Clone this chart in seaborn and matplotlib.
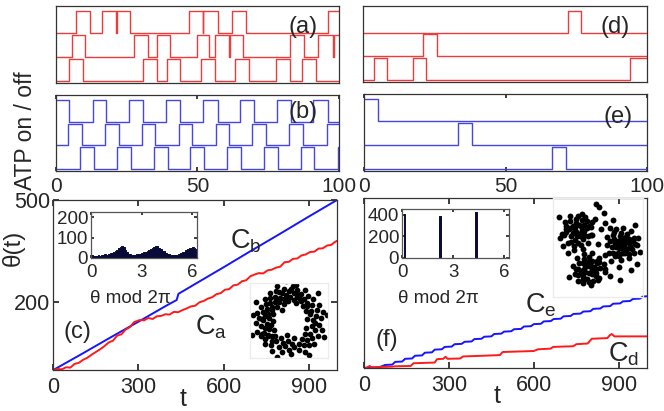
import numpy as np
import pandas as pd
import matplotlib
matplotlib.use("Agg")
import matplotlib.pyplot as plt
import seaborn as sns

sns.set_theme(style="white")
plt.rcParams['font.family'] = ['Liberation Sans', 'DejaVu Sans']
plt.rcParams['mathtext.default'] = 'regular'

# ATP on/off switching times (t), each trace starts in the given state
a_top = [7.2, 12.2, 16.3, 21.3, 21.5, 26.3, 46.9, 51.9, 52.1, 57.2, 62.1, 67.1, 96.0]
a_mid = [5.8, 10.5, 27.5, 32.6, 35.8, 40.5, 49.8, 54.2, 56.2, 61.2, 61.4, 66.2,
         82.6, 87.6, 92.7, 97.9, 98.1]
a_bot = [4.6, 9.5, 30.8, 35.8, 39.3, 44.0, 51.2, 56.2, 63.3, 68.2, 77.6, 82.7, 87.0, 91.8]
b_top = [4.8, 13.1, 17.9, 26.0, 30.7, 39.0, 43.8, 52.1, 57.2, 65.1, 70.1, 78.0, 83.0, 90.9, 96.0]
b_mid = [4.3, 9.3, 17.3, 22.2, 30.5, 35.2, 43.4, 48.1, 56.5, 61.3, 69.4, 74.2, 82.5, 87.4, 95.6]
b_bot = [8.7, 13.4, 21.6, 26.6, 34.6, 39.5, 47.5, 52.3, 60.5, 65.3, 73.5, 78.3, 86.5, 91.3, 99.5]
d_top = [72.1, 76.9]
d_mid = [21.2, 26.1]
d_bot = [3.7, 8.6, 17.5, 22.2, 94.1]
e_top = [5.0]
e_mid = [33.2, 38.3]
e_bot = [66.4, 71.4]
start_state = {"b_top": 1, "e_top": 1}

# theta(t) curves
cb_t = [0, 100, 200, 300, 400, 435, 441, 500, 600, 700, 800, 900, 1000]
cb_theta = [0, 47, 95, 142, 190, 206, 224, 253, 302, 352, 401, 451, 500]
ca_t = [0, 15, 30, 45, 60, 75, 90, 105, 120, 135, 150, 165, 180, 195, 210, 225, 240, 255,
        270, 285, 295, 305, 320, 335, 350, 365, 380, 395, 410, 425, 440, 455, 470, 485,
        500, 515, 530, 545, 560, 575, 590, 605, 620, 635, 650, 665, 680, 695, 710, 725,
        740, 755, 770, 785, 800, 815, 830, 845, 860, 875, 890, 905, 920, 935, 950, 965,
        980, 990, 1000]
ca_theta = [0, 3, 2, 8, 7, 18, 21, 30, 36, 45, 53, 61, 70, 81, 86, 101, 105, 119,
            126, 141, 144, 147, 146, 153, 150, 158, 159, 164, 163, 171, 170, 176, 181, 187,
            189, 199, 203, 210, 214, 223, 226, 236, 238, 249, 251, 261, 264, 276, 281, 285,
            284, 293, 295, 301, 304, 317, 318, 327, 328, 337, 340, 347, 348, 357, 358, 366,
            368, 375, 380]
ce_t = [0, 20, 40, 60, 75, 100, 110, 135, 145, 170, 180, 205, 215, 240, 250, 275, 285,
        310, 320, 345, 355, 380, 390, 415, 425, 450, 460, 485, 495, 520, 530, 555, 565,
        590, 600, 625, 635, 660, 670, 695, 705, 730, 740, 765, 775, 800, 810, 835, 845,
        870, 880, 905, 915, 940, 950, 975, 985, 1000]
ce_theta = [0, 2, 1, 4, 9, 10, 18, 19, 27, 28, 36, 37, 45, 46, 54, 55, 62, 63, 70, 71,
            77, 78, 85, 86, 92, 93, 100, 101, 107, 108, 114, 115, 122, 123, 129, 130, 137,
            138, 144, 145, 152, 153, 159, 160, 166, 167, 174, 175, 181, 182, 189, 190, 196,
            197, 203, 204, 210, 211]
cd_t = [0, 10, 20, 25, 60, 100, 110, 165, 175, 250, 258, 280, 288, 295, 340, 350, 420,
        480, 490, 600, 615, 660, 668, 740, 750, 790, 805, 860, 868, 875, 885, 1000]
cd_theta = [0, 1, 6, 2, 3, 4, 5, 6, 14, 16, 26, 27, 33, 27, 28, 34, 36, 38, 47, 50, 55,
            57, 62, 64, 70, 72, 86, 88, 96, 100, 93, 93]

# histograms of theta mod 2pi
c_counts = [14, 10, 12, 11, 13, 12, 15, 14, 18, 17, 22, 25, 24, 30, 34, 40, 47, 55, 61, 52,
            38, 30, 22, 20, 16, 17, 14, 18, 20, 22, 25, 30, 28, 34, 38, 42, 48, 52, 60, 57,
            50, 44, 36, 32, 25, 20, 18, 15, 16, 14, 17, 15, 20, 24, 28, 30, 38, 42, 50, 48,
            52, 49, 44]
f_counts = [3, 410, 4, 2, 3, 2, 3, 2, 4, 3, 2, 3, 2, 3, 2, 2, 3, 4, 2, 3, 2, 3, 393, 3, 2,
            3, 2, 4, 3, 2, 3, 2, 3, 2, 3, 4, 2, 3, 2, 3, 2, 3, 2, 431, 3, 2, 3, 2, 3, 4, 2,
            3, 2, 3, 2, 3, 2, 3, 2, 3, 4, 2, 3]

# phase-space clouds, (angle in degrees, radius)
ring_pts = [(2, 0.9), (5, 1.25), (8, 0.7), (12, 1.05), (15, 1.35), (18, 0.85), (22, 1.15),
            (26, 0.95), (29, 1.3), (33, 0.75), (36, 1.1), (40, 0.9), (43, 1.25), (47, 1.0),
            (50, 0.8), (54, 1.2), (57, 1.05), (61, 0.9), (64, 1.35), (67, 1.15), (70, 0.75),
            (73, 1.0), (76, 1.25), (79, 0.85), (82, 1.1), (85, 1.4), (88, 0.95), (91, 1.2),
            (94, 0.8), (97, 1.05), (100, 1.3), (103, 0.9), (106, 1.15), (109, 0.7), (112, 1.0),
            (115, 1.3), (118, 0.85), (121, 1.1), (124, 1.35), (127, 0.95), (130, 1.2),
            (133, 0.75), (136, 1.05), (139, 1.3), (142, 0.9), (145, 1.15), (148, 0.8),
            (151, 1.0), (154, 1.25), (157, 0.7), (160, 1.1), (163, 0.9), (166, 1.3), (169, 1.0),
            (172, 0.8), (175, 1.2), (178, 1.05), (181, 0.65), (184, 1.3), (187, 0.9),
            (190, 1.15), (193, 0.75), (196, 1.0), (199, 1.35), (202, 0.85), (205, 1.1),
            (208, 1.25), (211, 0.7), (214, 1.0), (217, 1.2), (220, 0.9), (223, 1.3), (226, 0.8),
            (229, 1.05), (232, 1.2), (236, 0.95), (240, 1.35), (244, 0.75), (248, 1.1),
            (252, 0.9), (256, 1.25), (260, 1.0), (264, 0.8), (268, 1.15), (272, 1.3), (276, 0.9),
            (280, 1.05), (284, 0.7), (288, 1.2), (292, 0.95), (296, 1.35), (300, 1.1),
            (304, 0.85), (308, 1.2), (312, 1.0), (316, 1.3), (320, 0.8), (324, 1.1), (328, 0.95),
            (332, 1.25), (336, 0.7), (340, 1.05), (344, 1.3), (348, 0.9), (352, 1.15),
            (356, 1.0), (10, 1.5), (45, 1.55), (95, 1.6), (150, 1.5), (200, 1.55), (250, 1.5),
            (300, 1.55), (335, 1.5), (125, 0.55), (260, 0.55), (65, 0.95), (75, 1.1), (88, 1.25),
            (100, 0.85), (110, 1.2), (120, 1.0), (160, 0.95), (175, 1.1), (190, 0.85),
            (205, 1.2), (215, 1.05), (110, 1.45), (80, 1.45), (170, 1.45)]
blob_tl = [(0, 0.3), (20, 0.9), (40, 0.6), (60, 1.1), (80, 0.4), (100, 0.8), (120, 1.2),
           (140, 0.5), (160, 0.95), (180, 0.2), (200, 1.1), (220, 0.7), (240, 1.0), (260, 0.45),
           (280, 1.15), (300, 0.8), (320, 0.55), (340, 1.05), (10, 0.7), (30, 1.2), (50, 0.35),
           (70, 0.8), (90, 1.05), (110, 0.55), (130, 0.9), (150, 1.15), (170, 0.65), (190, 0.9),
           (210, 0.4), (230, 1.2), (250, 0.75), (270, 0.95), (290, 0.5), (310, 1.2), (330, 0.85),
           (350, 0.45), (45, 0.95), (135, 0.3), (225, 0.25), (315, 0.3), (75, 1.25), (195, 1.25),
           (255, 1.2), (15, 1.0), (165, 0.6)]
blob_r = [(5, 0.5), (25, 1.0), (45, 0.3), (65, 0.85), (85, 1.2), (105, 0.6), (125, 1.05),
          (145, 0.35), (165, 0.9), (185, 1.15), (205, 0.5), (225, 0.95), (245, 0.7), (265, 1.2),
          (285, 0.4), (305, 0.9), (325, 1.1), (345, 0.65), (15, 0.85), (35, 0.6), (55, 1.15),
          (75, 0.45), (95, 0.8), (115, 0.25), (135, 0.95), (155, 1.2), (175, 0.55), (195, 0.8),
          (215, 1.2), (235, 0.35), (255, 0.95), (275, 0.7), (295, 1.15), (315, 0.5), (335, 0.85),
          (355, 1.15), (60, 0.6), (150, 0.7), (240, 1.05), (330, 0.2), (20, 1.25), (110, 1.2),
          (200, 0.2), (290, 0.7), (0, 0.95)]
blob_b = [(8, 0.8), (28, 0.4), (48, 1.1), (68, 0.65), (88, 0.9), (108, 1.15), (128, 0.5),
          (148, 0.85), (168, 1.2), (188, 0.45), (208, 0.95), (228, 0.7), (248, 1.15), (268, 0.3),
          (288, 0.9), (308, 1.05), (328, 0.6), (348, 1.2), (18, 1.15), (38, 0.75), (58, 0.3),
          (78, 1.2), (98, 0.5), (118, 0.85), (138, 1.2), (158, 0.35), (178, 0.8), (198, 1.1),
          (218, 0.4), (238, 0.9), (258, 0.75), (278, 1.2), (298, 0.45), (318, 0.95), (338, 0.25),
          (358, 0.55), (90, 0.2), (180, 1.0), (270, 0.95), (0, 1.2), (45, 0.85), (135, 0.65),
          (225, 1.2), (315, 0.75), (200, 0.6)]
blob_centres = {"tl": (-1.2, 1.13), "r": (1.73, 0.2), "b": (-0.47, -1.47)}
stray_pts = [(0.2, 2.7), (0.5, 2.3), (-0.1, 1.9), (0.6, 1.6), (0.3, 1.2), (0.9, 1.3), (1.1, 1.8),
             (-2.2, 0.1), (-1.9, -0.4), (-2.4, 0.6), (-1.5, -0.2), (-0.9, -0.1), (0.1, 0.2),
             (0.6, -0.5), (1.0, -0.9), (1.5, -1.3), (2.3, -1.5), (2.7, -1.1), (0.9, -1.9),
             (-1.8, -2.0), (-2.5, 2.0), (2.6, 1.5), (1.6, -2.2), (-0.3, 0.8), (0.2, -1.0),
             (2.9, -0.3), (-2.0, 1.2), (0.0, 2.9)]

RED = "#ee3b3b"
BLUE = "#4646e0"
W, H = 664, 411

fig = plt.figure(figsize=(W / 100, H / 100), dpi=100)


def add_ax(left, top, right, bottom):
    # axes placed by pixel box of the reference
    return fig.add_axes([left / W, 1 - bottom / H, (right - left) / W, (bottom - top) / H])


def style(ax, spine="#333333"):
    for sp in ax.spines.values():
        sp.set_color(spine)
        sp.set_linewidth(0.9)


def trace_frame(switches, start, level):
    xs, ys, s = [0.0], [start], start
    for t in switches:
        s = 1 - s
        xs.append(t)
        ys.append(s)
    xs.append(100.0)
    ys.append(s)
    return pd.DataFrame({"t": xs, "y": level + 0.92 * np.array(ys)})


def step_panel(box, traces, color, label, lab_xy, show_ticks):
    ax = add_ax(*box)
    for name, sw, level in traces:
        df = trace_frame(sw, start_state.get(name, 0), level)
        sns.lineplot(data=df, x="t", y="y", ax=ax, color=color, lw=1.0,
                     drawstyle="steps-post", estimator=None, sort=False)
    ax.set_xlim(0, 100)
    ax.set_ylim(-0.08, 3.12)
    ax.set_yticks([])
    ax.set_xlabel("")
    ax.set_ylabel("")
    if show_ticks:
        ax.set_xticks([0, 50, 100])
        ax.tick_params(axis="x", direction="in", length=3, bottom=True, top=True,
                       labelsize=15, pad=4)
    else:
        ax.set_xticks([])
    style(ax)
    fig.text(lab_xy[0] / W, 1 - lab_xy[1] / H, label, fontsize=17, ha="center", va="center")
    return ax


step_panel((55.7, 6, 339, 83), [("a_top", a_top, 2), ("a_mid", a_mid, 1), ("a_bot", a_bot, 0)],
           RED, "(a)", (303, 27), False)
step_panel((55.7, 95, 339, 171), [("b_top", b_top, 2), ("b_mid", b_mid, 1), ("b_bot", b_bot, 0)],
           BLUE, "(b)", (303, 112), True)
step_panel((363, 6, 647, 82), [("d_top", d_top, 2), ("d_mid", d_mid, 1), ("d_bot", d_bot, 0)],
           RED, "(d)", (615, 27), False)
step_panel((364, 94, 647, 171), [("e_top", e_top, 2), ("e_mid", e_mid, 1), ("e_bot", e_bot, 0)],
           BLUE, "(e)", (618, 117), True)

fig.text(26 / W, 1 - 131 / H, "ATP on / off", rotation=90, fontsize=16.5, ha="center", va="center")


def theta_panel(box, curves, show_y):
    ax = add_ax(*box)
    for ts, th, c in curves:
        sns.lineplot(x=ts, y=th, ax=ax, color=c, lw=1.4, estimator=None, sort=False)
    ax.set_xlim(0, 1000)
    ax.set_ylim(0, 500)
    ax.set_xticks([0, 300, 600, 900])
    ax.set_yticks([200, 500] if show_y else [])
    ax.tick_params(direction="in", length=4, bottom=True, top=True, left=True, right=True,
                   labelsize=15.5, pad=5)
    ax.tick_params(axis="y", pad=2)
    style(ax)
    return ax


theta_panel((53.3, 200, 337, 370), [(cb_t, cb_theta, "#1515ff"), (ca_t, ca_theta, "#ff1a1a")], True)
theta_panel((364, 198, 647, 368), [(ce_t, ce_theta, "#1515ff"), (cd_t, cd_theta, "#ff1a1a")], False)

fig.text(13 / W, 1 - 248 / H, "θ(t)", rotation=90, fontsize=17.5, ha="center", va="center")
fig.text(183 / W, 1 - 399 / H, "t", fontsize=18, ha="center", va="center")
fig.text(497 / W, 1 - 396 / H, "t", fontsize=18, ha="center", va="center")
for txt, x, y in [("(c)", 77, 332), ("(f)", 387, 340)]:
    fig.text(x / W, 1 - y / H, txt, fontsize=17, ha="center", va="center")
for txt, x, y in [("C$_b$", 246, 241), ("C$_a$", 211, 327), ("C$_e$", 541, 305),
                  ("C$_d$", 624, 354)]:
    fig.text(x / W, 1 - y / H, txt, fontsize=19.5, ha="center", va="center")


def hist_inset(box, counts, ymax, yticks, lab_x, lab_y):
    ax = add_ax(*box)
    width = 2 * np.pi / len(counts)
    df = pd.DataFrame({"theta": (np.arange(len(counts)) + 0.5) * width, "count": counts})
    sns.histplot(data=df, x="theta", weights="count", bins=len(counts),
                 binrange=(0, 2 * np.pi), element="step", fill=True,
                 color="#0a0a36", alpha=1, linewidth=0.7, ax=ax)
    ax.set_xlim(0, 2 * np.pi)
    ax.set_ylim(0, ymax)
    ax.set_xticks([0, 3, 6])
    ax.set_yticks(yticks)
    ax.set_ylabel("")
    ax.set_xlabel("θ mod 2π", fontsize=13.5)
    ax.xaxis.set_label_coords(lab_x, lab_y)
    ax.tick_params(direction="in", length=2.5, bottom=True, top=True, left=True, right=True,
                   labelsize=13.5, pad=2)
    ax.tick_params(axis="x", pad=4)
    style(ax, "#555555")
    return ax


hist_inset((91, 212, 197, 258), c_counts, 225, [0, 100, 200], 0.37, -0.70)
hist_inset((402, 209, 509, 258), f_counts, 455, [0, 200, 400], 0.34, -0.66)


def cloud(box, groups, xlim, ylim, size):
    ax = add_ax(*box)
    ax.set_facecolor("none")
    for xs, ys in groups:
        sns.scatterplot(x=xs, y=ys, ax=ax, color="black", s=size, linewidth=0)
    ax.set_xlim(*xlim)
    ax.set_ylim(*ylim)
    ax.set_xticks([])
    ax.set_yticks([])
    style(ax, "#ececec")
    return ax


ring = np.array(ring_pts, dtype=float)
ring_x = ring[:, 1] * np.cos(np.radians(ring[:, 0]))
ring_y = ring[:, 1] * np.sin(np.radians(ring[:, 0]))
cloud((250, 283, 328, 358), [(ring_x, ring_y)], (-1.55, 1.5), (-1.45, 1.5), 17)

blob_groups = []
for key, pts in [("tl", blob_tl), ("r", blob_r), ("b", blob_b)]:
    arr = np.array(pts, dtype=float)
    cx, cy = blob_centres[key]
    blob_groups.append((cx + 0.9 * arr[:, 1] * np.cos(np.radians(arr[:, 0])),
                        cy + 0.9 * arr[:, 1] * np.sin(np.radians(arr[:, 0]))))
stray = np.array(stray_pts)
blob_groups.append((stray[:, 0], stray[:, 1]))
cloud((553, 198, 643, 297), blob_groups, (-2.87, 3.13), (-3.33, 3.27), 18)

fig.savefig("out.png", dpi=100)
